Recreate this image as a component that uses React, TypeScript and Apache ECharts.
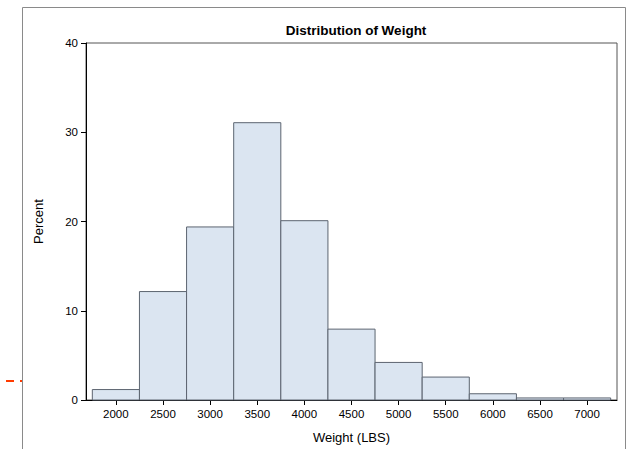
import React, { useEffect, useRef } from "react";
import * as echarts from "echarts";

const binStarts = [1750, 2250, 2750, 3250, 3750, 4250, 4750, 5250, 5750, 6250, 6750];
const binEnds = [2250, 2750, 3250, 3750, 4250, 4750, 5250, 5750, 6250, 6750, 7250];
const percents = [1.17, 12.15, 19.39, 31.07, 20.09, 7.94, 4.21, 2.57, 0.7, 0.23, 0.23];
const xTicks = [2000, 2500, 3000, 3500, 4000, 4500, 5000, 5500, 6000, 6500, 7000];
const yTicks = [0, 10, 20, 30, 40];

const FONT = "'Liberation Sans', Arial, sans-serif";

export default function App() {
  const ref = useRef<HTMLDivElement>(null);
  useEffect(() => {
    if (!ref.current) return;
    const chart = echarts.init(ref.current, undefined, { renderer: "svg" });
    const data = binStarts.map((s, i) => [s, binEnds[i], percents[i]]);
    chart.setOption({
      animation: false,
      backgroundColor: "#ffffff",
      title: {
        text: "Distribution of Weight",
        left: 351,
        textAlign: "center",
        top: 18,
        textStyle: { fontFamily: FONT, fontSize: 13.5, fontWeight: "bold", color: "#000" },
      },
      grid: {
        left: 86,
        right: 11,
        top: 43,
        bottom: 49,
        show: true,
        borderColor: "#555",
        borderWidth: 1,
        backgroundColor: "transparent",
      },
      xAxis: {
        type: "value",
        min: 1683,
        max: 7317,
        name: "Weight (LBS)",
        nameLocation: "middle",
        nameGap: 31,
        nameTextStyle: { fontFamily: FONT, fontSize: 13, color: "#000" },
        axisLine: { show: true, onZero: false, lineStyle: { color: "#000", width: 1 } },
        axisTick: { show: true, length: 5, lineStyle: { color: "#000" }, customValues: xTicks },
        axisLabel: {
          customValues: xTicks,
          fontFamily: FONT,
          fontSize: 11.5,
          color: "#000",
          margin: 8,
          formatter: (v: number) => String(v),
        },
        splitLine: { show: false },
      },
      yAxis: {
        type: "value",
        min: 0,
        max: 40,
        interval: 10,
        name: "Percent",
        nameLocation: "middle",
        nameGap: 41,
        nameTextStyle: { fontFamily: FONT, fontSize: 13, color: "#000" },
        axisLine: { show: true, lineStyle: { color: "#000", width: 1 } },
        axisTick: { show: true, length: 5, lineStyle: { color: "#000" } },
        axisLabel: {
          fontFamily: FONT,
          fontSize: 11.5,
          color: "#000",
          margin: 8,
          formatter: (v: number) => (yTicks.includes(v) ? String(v) : ""),
        },
        splitLine: { show: false },
      },
      graphic: [
        {
          type: "rect",
          shape: { x: 22.5, y: 7.5, width: 603, height: 470 },
          style: { fill: "none", stroke: "#8a8a8a", lineWidth: 1 },
          silent: true,
          z: -10,
        },
        {
          type: "line",
          shape: { x1: 6, y1: 381, x2: 14, y2: 381 },
          style: { stroke: "#ff3b00", lineWidth: 2 },
          silent: true,
        },
        {
          type: "line",
          shape: { x1: 20, y1: 381, x2: 22, y2: 381 },
          style: { stroke: "#ff3b00", lineWidth: 2 },
          silent: true,
        },
      ],
      series: [
        {
          type: "custom",
          data,
          encode: { x: [0, 1], y: 2 },
          renderItem: (params: any, api: any) => {
            const p0 = api.coord([api.value(0), api.value(2)]);
            const p1 = api.coord([api.value(1), 0]);
            return {
              type: "rect",
              shape: { x: p0[0], y: p0[1], width: p1[0] - p0[0], height: p1[1] - p0[1] },
              style: { fill: "#dbe5f1", stroke: "#5c6470", lineWidth: 1 },
            };
          },
        },
      ],
    });
    return () => chart.dispose();
  }, []);
  return (
    <div
      ref={ref}
      style={{ position: "absolute", left: 0, top: 0, width: 628, height: 449 }}
    />
  );
}
